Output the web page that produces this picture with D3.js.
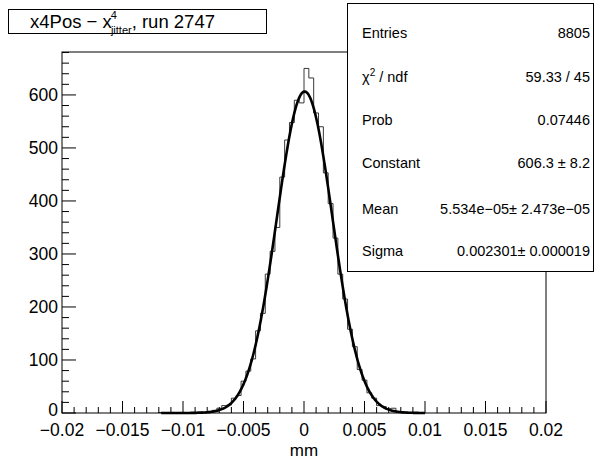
<!DOCTYPE html>
<html>
<head>
<meta charset="utf-8">
<script src="https://cdn.jsdelivr.net/npm/d3@7"></script>
<style>
  body { margin: 0; background: #fff; }
  svg { font-family: "Liberation Sans", Arial, sans-serif; }
</style>
</head>
<body>
<svg id="chart" width="595" height="459"></svg>
<script>
// histogram: 100 bins from -0.02 to 0.02, only filled range listed
const binLo = -0.02
const binWidth = 0.0004
const firstBin = 20   // index of first listed bin (center -0.0118)
const counts = [
  1, 0, 1, 0, 1, 0, 1, 1, 2, 1,
  3, 5, 9, 14, 15, 28, 33, 60, 79, 102,
  155, 188, 262, 305, 350, 445, 515, 548, 590, 585,
  650, 632, 566, 540, 453, 395, 330, 262, 215, 158,
  125, 82, 62, 38, 28, 14, 12, 8, 9, 3,
  2, 1, 1, 0, 1
]

// fit parameters (gaus)
const fitConstant = 606.3
const fitMean = 5.534e-05
const fitSigma = 0.002301
const fitRange = [-0.0118, 0.0100]

const xTicks = [-0.02, -0.015, -0.01, -0.005, 0, 0.005, 0.01, 0.015, 0.02]
const xTickLabels = ["\u22120.02", "\u22120.015", "\u22120.01", "\u22120.005", "0", "0.005", "0.01", "0.015", "0.02"]
const yTicks = [0, 100, 200, 300, 400, 500, 600]

const statsLabels = ["Entries", "\u03c7\u00b2 / ndf", "Prob", "Constant", "Mean", "Sigma"]
const statsValues = ["8805", "59.33 / 45", "0.07446", "606.3 \u00b1 8.2", "5.534e\u221205\u00b1 2.473e\u221205", "0.002301\u00b1 0.000019"]

const svg = d3.select("#chart")
const frame = {left: 62, right: 546, top: 52, bottom: 413}

const x = d3.scaleLinear().domain([-0.02, 0.02]).range([frame.left, frame.right])
const y = d3.scaleLinear().domain([0, 681]).range([frame.bottom, frame.top])

// histogram outline as steps
var pts = []
pts.push([binLo + firstBin * binWidth, 0])
counts.forEach(function(c, i) {
    const lo = binLo + (firstBin + i) * binWidth
    pts.push([lo, c])
    pts.push([lo + binWidth, c])
})
pts.push([binLo + (firstBin + counts.length) * binWidth, 0])

svg.append("path")
    .attr("d", d3.line().x((d) => x(d[0])).y((d) => y(d[1]))(pts))
    .attr("fill", "none")
    .attr("stroke", "#222")
    .attr("stroke-width", 0.9)

// fit curve
const gaus = (v) => fitConstant * Math.exp(-0.5 * Math.pow((v - fitMean) / fitSigma, 2))
const fitPts = d3.range(0, 401).map((k) => {
    const v = fitRange[0] + (fitRange[1] - fitRange[0]) * k / 400
    return [v, gaus(v)]
})
svg.append("path")
    .attr("d", d3.line().x((d) => x(d[0])).y((d) => y(d[1]))(fitPts))
    .attr("fill", "none")
    .attr("stroke", "#000")
    .attr("stroke-width", 2.6)

// frame
svg.append("rect")
    .attr("x", frame.left).attr("y", frame.top)
    .attr("width", frame.right - frame.left).attr("height", frame.bottom - frame.top)
    .attr("fill", "none").attr("stroke", "#000").attr("stroke-width", 1)

// x axis ticks
const xMinor = d3.range(-0.02, 0.02001, 0.001)
svg.append("g").selectAll("line").data(xMinor).join("line")
    .attr("x1", (d) => x(d)).attr("x2", (d) => x(d))
    .attr("y1", frame.bottom)
    .attr("y2", (d, i) => frame.bottom - (i % 5 == 0 ? 12 : 6))
    .attr("stroke", "#000")

svg.append("g").selectAll("text").data(xTicks).join("text")
    .attr("x", (d) => x(d))
    .attr("y", 436)
    .attr("text-anchor", "middle")
    .attr("font-size", 17.5)
    .text((d, i) => xTickLabels[i])

svg.append("text")
    .attr("x", x(0)).attr("y", 456)
    .attr("text-anchor", "middle")
    .attr("font-size", 17)
    .text("mm")

// y axis ticks
const yMinor = d3.range(0, 681, 20)
svg.append("g").selectAll("line").data(yMinor).join("line")
    .attr("x1", frame.left)
    .attr("x2", (d) => frame.left + (d % 100 == 0 ? 14 : 7))
    .attr("y1", (d) => y(d)).attr("y2", (d) => y(d))
    .attr("stroke", "#000")

svg.append("g").selectAll("text").data(yTicks).join("text")
    .attr("x", 58)
    .attr("y", (d) => y(d) + (d == 0 ? 3 : 6))
    .attr("text-anchor", "end")
    .attr("font-size", 17.5)
    .text((d) => d)

// title box
svg.append("rect")
    .attr("x", 8.5).attr("y", 9.5).attr("width", 258).attr("height", 24)
    .attr("fill", "#fff").attr("stroke", "#000")
const title = svg.append("text")
    .attr("x", 30).attr("y", 28)
    .attr("font-size", 18.5)
title.append("tspan").text("x4Pos \u2212 x")
title.append("tspan").attr("font-size", 11).attr("dx", -1).attr("dy", -9).text("4")
title.append("tspan").attr("font-size", 11).attr("dx", -6).attr("dy", 15).text("jitter")
title.append("tspan").attr("dy", -6).text(", run 2747")

// stats box
svg.append("rect")
    .attr("x", 347.5).attr("y", 3.5).attr("width", 246).attr("height", 268)
    .attr("fill", "#fff").attr("stroke", "#000")

const rowY = [38, 82, 125, 168, 214, 256]
svg.append("g").selectAll("text").data(statsLabels).join("text")
    .attr("x", 362)
    .attr("y", (d, i) => rowY[i])
    .attr("font-size", 14.5)
    .each(function(d) {
        const t = d3.select(this)
        if (d.startsWith("\u03c7")) {
            t.append("tspan").text("\u03c7")
            t.append("tspan").attr("font-size", 10).attr("dy", -6).text("2")
            t.append("tspan").attr("dy", 6).text(" / ndf")
        } else {
            t.text(d)
        }
    })

svg.append("g").selectAll("text").data(statsValues).join("text")
    .attr("x", 590)
    .attr("y", (d, i) => rowY[i])
    .attr("text-anchor", "end")
    .attr("font-size", 14.5)
    .text((d) => d)
</script>
</body>
</html>
